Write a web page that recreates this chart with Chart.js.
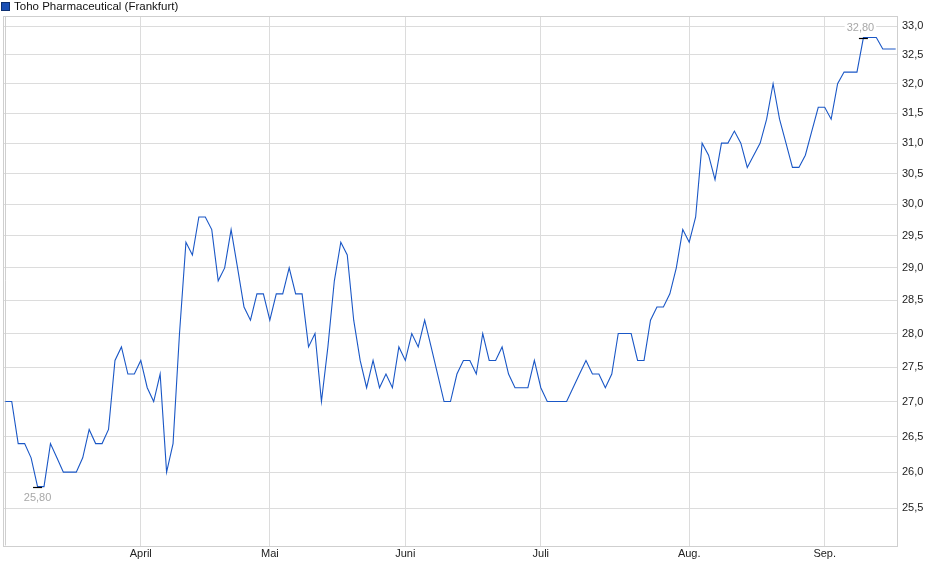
<!DOCTYPE html>
<html>
<head>
<meta charset="utf-8">
<script src="https://cdn.jsdelivr.net/npm/chart.js@4"></script>
<style>
  html, body { margin: 0; padding: 0; background: #fff; }
  #wrap { width: 940px; height: 579px; }
</style>
</head>
<body>
<div id="wrap"><canvas id="chart" width="940" height="579"></canvas></div>
<script>
const seriesName = "Toho Pharmaceutical (Frankfurt)";

// daily closes, one per trading day
const prices = [
  27.0, 27.0, 26.4, 26.4, 26.2, 25.8, 25.8, 26.4, 26.2, 26.0,
  26.0, 26.0, 26.2, 26.6, 26.4, 26.4, 26.6, 27.6, 27.8, 27.4,
  27.4, 27.6, 27.2, 27.0, 27.4, 26.0, 26.4, 28.0, 29.4, 29.2,
  29.8, 29.8, 29.6, 28.8, 29.0, 29.6, 29.0, 28.4, 28.2, 28.6,
  28.6, 28.2, 28.6, 28.6, 29.0, 28.6, 28.6, 27.8, 28.0, 27.0,
  27.8, 28.8, 29.4, 29.2, 28.2, 27.6, 27.2, 27.6, 27.2, 27.4,
  27.2, 27.8, 27.6, 28.0, 27.8, 28.2, 27.8, 27.4, 27.0, 27.0,
  27.4, 27.6, 27.6, 27.4, 28.0, 27.6, 27.6, 27.8, 27.4, 27.2,
  27.2, 27.2, 27.6, 27.2, 27.0, 27.0, 27.0, 27.0, 27.2, 27.4,
  27.6, 27.4, 27.4, 27.2, 27.4, 28.0, 28.0, 28.0, 27.6, 27.6,
  28.2, 28.4, 28.4, 28.6, 29.0, 29.6, 29.4, 29.8, 31.0, 30.8,
  30.4, 31.0, 31.0, 31.2, 31.0, 30.6, 30.8, 31.0, 31.4, 32.0,
  31.4, 31.0, 30.6, 30.6, 30.8, 31.2, 31.6, 31.6, 31.4, 32.0,
  32.2, 32.2, 32.2, 32.8, 32.8, 32.8, 32.6, 32.6, 32.6
];

// first trading day of each month (index into prices)
const monthNames = ["April", "Mai", "Juni", "Juli", "Aug.", "Sep."];
const monthStartIdx = [21, 41, 62, 83, 106, 127];

const yTicks = [25.5, 26.0, 26.5, 27.0, 27.5, 28.0, 28.5, 29.0, 29.5, 30.0, 30.5, 31.0, 31.5, 32.0, 32.5, 33.0];

const points = prices.map((v, i) => ({ x: i, y: v }));
const fmt = v => v.toFixed(1).replace(".", ",");
const FONT = "'Liberation Sans', Arial, sans-serif";

// frame, legend and min/max markers
const extras = {
  id: "extras",
  beforeDatasetsDraw(chart) {
    const { ctx, chartArea: a } = chart;
    ctx.save();
    ctx.strokeStyle = "#cfcfcf";
    ctx.lineWidth = 1;
    ctx.strokeRect(Math.round(a.left) - 0.5, Math.round(a.top) + 0.5, Math.round(a.right - a.left), Math.round(a.bottom - a.top));
    ctx.beginPath();
    ctx.moveTo(Math.round(a.left) + 1.5, a.top);
    ctx.lineTo(Math.round(a.left) + 1.5, a.bottom);
    ctx.stroke();
    ctx.restore();
  },
  afterDatasetsDraw(chart) {
    const { ctx } = chart;
    const xs = chart.scales.x, ys = chart.scales.y;
    let lo = 0, hi = 0;
    prices.forEach((v, i) => {
      if (v < prices[lo]) lo = i;
      if (v > prices[hi]) hi = i;
    });
    ctx.save();
    ctx.font = "11px " + FONT;
    ctx.textAlign = "center";
    ctx.textBaseline = "middle";

    // low
    let px = xs.getPixelForValue(lo), py = ys.getPixelForValue(prices[lo]);
    ctx.strokeStyle = "#000";
    ctx.lineWidth = 1.2;
    ctx.beginPath();
    ctx.moveTo(px - 4.5, Math.round(py) + 0.5);
    ctx.lineTo(px + 4.5, Math.round(py) + 0.5);
    ctx.stroke();
    ctx.fillStyle = "#a8a8a8";
    ctx.fillText(fmt2(prices[lo]), px, py + 11);

    // high
    px = xs.getPixelForValue(hi); py = ys.getPixelForValue(prices[hi]);
    const label = fmt2(prices[hi]);
    const w = ctx.measureText(label).width;
    ctx.fillStyle = "#fff";
    ctx.fillRect(px - w / 2 - 5, py - 16, w + 4, 12);
    ctx.fillStyle = "#a8a8a8";
    ctx.fillText(label, px - 3, py - 10);
    ctx.beginPath();
    ctx.moveTo(px - 4.5, Math.round(py) + 0.5);
    ctx.lineTo(px + 4.5, Math.round(py) + 0.5);
    ctx.stroke();

    // legend
    ctx.fillStyle = "#1a4fb5";
    ctx.fillRect(1.5, 2.5, 8, 8);
    ctx.strokeStyle = "#0d2f70";
    ctx.lineWidth = 1;
    ctx.strokeRect(1.5, 2.5, 8, 8);
    ctx.fillStyle = "#111";
    ctx.textAlign = "left";
    ctx.font = "11.5px " + FONT;
    ctx.fillText(seriesName, 14, 7);
    ctx.restore();
  }
};

function fmt2(v) { return v.toFixed(2).replace(".", ","); }

new Chart(document.getElementById("chart"), {
  type: "line",
  data: {
    datasets: [{
      label: seriesName,
      data: points,
      borderColor: "#1a57c6",
      borderWidth: 1.1,
      pointRadius: 0,
      tension: 0,
      fill: false
    }]
  },
  options: {
    responsive: false,
    animation: false,
    layout: { padding: { top: 16, left: 4, right: 0, bottom: 0 } },
    plugins: { legend: { display: false }, tooltip: { enabled: false } },
    scales: {
      x: {
        type: "linear",
        min: -0.2,
        max: 138.36,
        afterBuildTicks: s => { s.ticks = monthStartIdx.map(v => ({ value: v })); },
        afterFit: s => { s.height = 33.5; },
        grid: { color: "#dcdcdc", drawTicks: false },
        border: { display: false },
        ticks: {
          autoSkip: false,
          maxRotation: 0,
          padding: 2,
          color: "#222",
          font: { family: FONT, size: 11 },
          callback: v => monthNames[monthStartIdx.indexOf(v)] || ""
        }
      },
      y: {
        type: "logarithmic",
        position: "right",
        min: 25.0,
        max: 33.18,
        afterBuildTicks: s => { s.ticks = yTicks.map(v => ({ value: v })); },
        afterFit: s => { s.width = 42; },
        grid: { color: "#dcdcdc", drawTicks: false },
        border: { display: false },
        ticks: {
          padding: 4,
          color: "#222",
          font: { family: FONT, size: 11 },
          callback: v => fmt(v)
        }
      }
    }
  },
  plugins: [extras]
});
</script>
</body>
</html>
